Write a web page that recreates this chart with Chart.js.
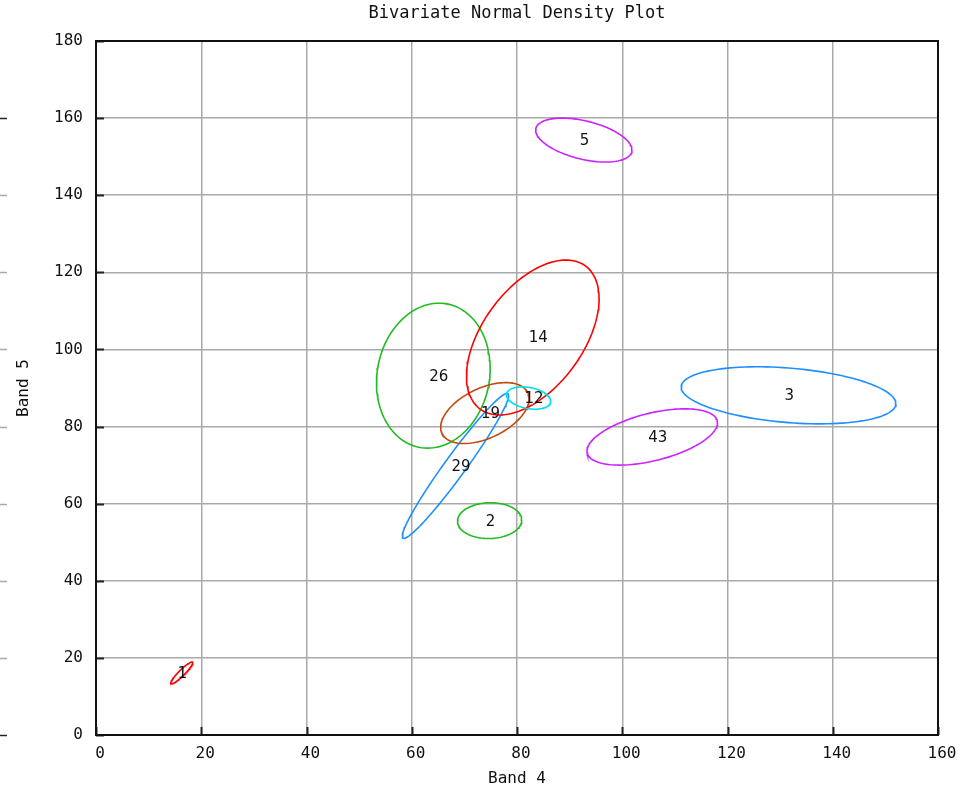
<!DOCTYPE html>
<html>
<head>
<meta charset="utf-8">
<script src="https://cdn.jsdelivr.net/npm/chart.js@4/dist/chart.umd.min.js"></script>
<style>
  html, body { margin: 0; padding: 0; background: #ffffff; }
  #wrap { width: 970px; height: 789px; }
</style>
</head>
<body>
<div id="wrap"><canvas id="c" width="970" height="789"></canvas></div>
<script>
// Class labels and their bivariate normal parameters
const classLabels = ['1', '2', '3', '5', '12', '14', '19', '26', '29', '43'];
const meanX = [16.3, 74.8, 131.6, 92.7, 82.2, 83.0, 73.9, 64.1, 68.3, 105.7];
const meanY = [16.1, 55.6, 88.1, 154.3, 87.4, 103.1, 83.5, 93.2, 69.8, 77.3];
const halfX = [2.1, 6.1, 20.4, 9.15, 4.2, 12.6, 8.4, 10.8, 10.1, 12.4];
const halfY = [2.85, 4.65, 7.4, 5.7, 2.9, 20.1, 7.9, 18.8, 18.8, 7.3];
const corr  = [0.93, 0.03, -0.29, -0.45, -0.29, 0.5, 0.47, 0.1, 0.97, 0.5];
const classColors = ['#ff0000', '#22bb22', '#1e8fff', '#cc22ff', '#00e0e8', '#ff0000', '#c04a10', '#22bb22', '#1e8fff', '#cc22ff'];

const xTicks = [0, 20, 40, 60, 80, 100, 120, 140, 160];
const yTicks = [0, 20, 40, 60, 80, 100, 120, 140, 160, 180];
const titleText = 'Bivariate Normal Density Plot';
const xTitle = 'Band 4';
const yTitle = 'Band 5';

// contour outline of each class's bivariate normal
function contour(i) {
  const pts = [];
  const n = 120;
  const r = corr[i];
  const s = Math.sqrt(1 - r * r);
  for (let k = 0; k <= n; k++) {
    const t = 2 * Math.PI * k / n;
    pts.push({
      x: meanX[i] + halfX[i] * Math.cos(t),
      y: meanY[i] + halfY[i] * (r * Math.cos(t) + s * Math.sin(t))
    });
  }
  return pts;
}

const datasets = classLabels.map((lab, i) => ({
  label: lab,
  data: contour(i),
  showLine: true,
  borderColor: classColors[i],
  backgroundColor: classColors[i],
  borderWidth: 1.6,
  pointRadius: 0,
  fill: false,
  tension: 0
}));

const monoFont = '"DejaVu Sans Mono", "Liberation Mono", monospace';

const decor = {
  id: 'decor',
  afterDraw(chart) {
    const ctx = chart.ctx;
    const xs = chart.scales.x, ys = chart.scales.y;
    const a = chart.chartArea;
    ctx.save();
    // inner tick marks
    ctx.strokeStyle = '#222';
    ctx.lineWidth = 2;
    yTicks.forEach(v => {
      const py = Math.round(ys.getPixelForValue(v)) + 0.5;
      ctx.beginPath(); ctx.moveTo(a.left, py); ctx.lineTo(a.left + 8, py); ctx.stroke();
    });
    xTicks.forEach(v => {
      const px = Math.round(xs.getPixelForValue(v)) + 0.5;
      ctx.beginPath(); ctx.moveTo(px, a.bottom); ctx.lineTo(px, a.bottom - 8); ctx.stroke();
    });
    // frame
    ctx.lineWidth = 2;
    ctx.strokeStyle = '#111';
    ctx.strokeRect(a.left, a.top, a.right - a.left, a.bottom - a.top);
    // stray stubs on the far left edge
    yTicks.filter(v => v <= 160).forEach(v => {
      const py = Math.round(ys.getPixelForValue(v)) + 0.5;
      ctx.strokeStyle = (v === 0 || v === 160) ? '#222' : '#aaa';
      ctx.lineWidth = 1.5;
      ctx.beginPath(); ctx.moveTo(0, py); ctx.lineTo(7, py); ctx.stroke();
    });
    // class labels, left-aligned at the mean
    ctx.fillStyle = '#111';
    ctx.font = '15px "DejaVu Sans", "Liberation Sans", sans-serif';
    ctx.textAlign = 'left';
    ctx.textBaseline = 'middle';
    classLabels.forEach((lab, i) => {
      const px = xs.getPixelForValue(meanX[i]);
      const py = ys.getPixelForValue(meanY[i]);
      ctx.fillText(lab, px - 4, py + 1);
    });
    // title and axis titles
    ctx.font = '17px ' + monoFont;
    ctx.textAlign = 'center';
    ctx.fillText(titleText, (a.left + a.right) / 2, 14);
    ctx.font = '16px ' + monoFont;
    ctx.fillText(xTitle, (a.left + a.right) / 2, 779);
    ctx.translate(24, (a.top + a.bottom) / 2);
    ctx.rotate(-Math.PI / 2);
    ctx.fillText(yTitle, 0, 0);
    ctx.restore();
  }
};

new Chart(document.getElementById('c'), {
  type: 'scatter',
  data: { datasets },
  options: {
    responsive: false,
    animation: false,
    devicePixelRatio: 1,
    layout: { padding: { top: 41, right: 32, left: 0, bottom: 0 } },
    plugins: {
      legend: { display: false },
      tooltip: { enabled: false },
      title: { display: false }
    },
    scales: {
      x: {
        type: 'linear', min: 0, max: 160,
        afterBuildTicks: s => { s.ticks = xTicks.map(v => ({ value: v })); },
        afterFit: s => { s.height = 54; },
        grid: { color: '#aaaaaa', lineWidth: 1.5, drawTicks: false },
        border: { display: false },
        ticks: { color: '#111', padding: 9, labelOffset: 4, maxRotation: 0, font: { family: monoFont, size: 16 } }
      },
      y: {
        type: 'linear', min: 0, max: 180,
        afterBuildTicks: s => { s.ticks = yTicks.map(v => ({ value: v })); },
        afterFit: s => { s.width = 96; },
        grid: { color: '#aaaaaa', lineWidth: 1.5, drawTicks: false },
        border: { display: false },
        ticks: { color: '#111', padding: 13, font: { family: monoFont, size: 16 } }
      }
    }
  },
  plugins: [decor]
});
</script>
</body>
</html>
